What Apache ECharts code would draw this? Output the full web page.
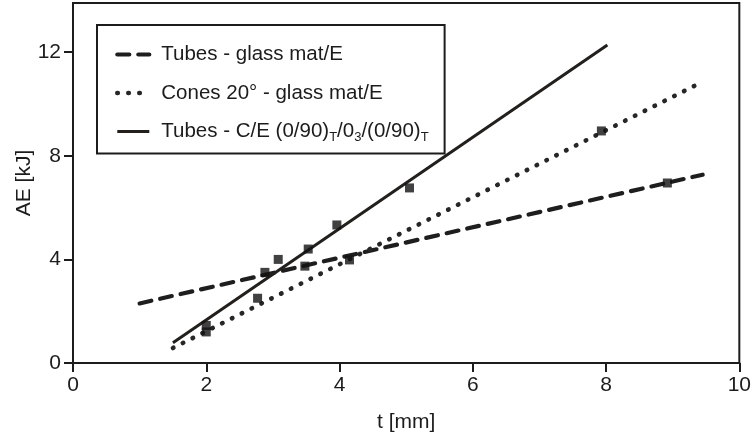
<!DOCTYPE html>
<html>
<head>
<meta charset="utf-8">
<script src="https://cdn.jsdelivr.net/npm/echarts@6/dist/echarts.min.js"></script>
<style>html,body{margin:0;padding:0;background:#fff;}#c{width:754px;height:440px;}</style>
</head>
<body>
<div id="c"></div>
<script>
// Series names
const seriesNames = ['Tubes - glass mat/E', 'Cones 20° - glass mat/E', 'Tubes - C/E (0/90)T/03/(0/90)T'];
// Fitted lines (t [mm], AE [kJ]) endpoints
const lineTubesGlass = [[1.0, 2.3], [9.45, 7.27]];
const lineConesGlass = [[1.5, 0.58], [9.45, 10.86]];
const lineTubesCE = [[1.5, 0.78], [8.02, 12.28]];
// Measured points
const ptsTubesGlass = [[2.88, 3.5], [3.48, 3.74], [8.92, 6.95]];
const ptsConesGlass = [[2.0, 1.2], [2.77, 2.5], [4.15, 3.98], [7.93, 8.96]];
const ptsTubesCE = [[2.0, 1.45], [3.08, 4.0], [3.53, 4.4], [3.96, 5.33], [5.05, 6.76]];
// Axis ticks
const xTicks = [0, 2, 4, 6, 8, 10];
const yTicks = [0, 4, 8, 12];

const FONT = 'Liberation Sans';
const INK = '#1c1c1c';
const chart = echarts.init(document.getElementById('c'));

function pointSeries(data) {
  return { type: 'scatter', data: data, symbol: 'rect', symbolSize: 9,
    itemStyle: { color: '#111' }, silent: true, z: 5 };
}

chart.setOption({
  animation: false,
  backgroundColor: '#fff',
  grid: { left: 73, right: 14, top: 3, bottom: 77, show: true, borderColor: INK, borderWidth: 2 },
  xAxis: {
    type: 'value', min: 0, max: 10, interval: 2,
    name: 't [mm]', nameLocation: 'middle', nameGap: 49,
    nameTextStyle: { fontFamily: FONT, fontSize: 21, color: INK },
    axisLine: { show: true, onZero: false, lineStyle: { color: INK, width: 2 } },
    axisTick: { show: true, length: 9, lineStyle: { color: INK, width: 2 }, customValues: xTicks },
    axisLabel: { fontFamily: FONT, fontSize: 21, color: INK, margin: 12, customValues: xTicks },
    splitLine: { show: false }
  },
  yAxis: {
    type: 'value', min: 0, max: 13.9,
    name: 'AE [kJ]', nameLocation: 'middle', nameGap: 38, nameMoveOverlap: false,
    nameTextStyle: { fontFamily: FONT, fontSize: 21, color: INK },
    axisLine: { show: true, onZero: false, lineStyle: { color: INK, width: 2 } },
    axisTick: { show: true, length: 9, lineStyle: { color: INK, width: 2 }, customValues: yTicks },
    axisLabel: { fontFamily: FONT, fontSize: 21, color: INK, margin: 12, customValues: yTicks },
    splitLine: { show: false }
  },
  legend: {
    orient: 'vertical', left: 97, top: 25,
    backgroundColor: '#fff', borderColor: INK, borderWidth: 2,
    padding: [19, 16, 10, 18],
    itemWidth: 32, itemHeight: 22, itemGap: 17.5,
    lineStyle: { width: 'inherit' },
    itemStyle: { opacity: 0, borderWidth: 0 },
    data: seriesNames,
    textStyle: {
      fontFamily: FONT, fontSize: 20.5, color: INK, padding: [0, 0, 0, 7],
      rich: {
        a: { fontFamily: FONT, fontSize: 20.5, color: INK, lineHeight: 24 },
        s: { fontFamily: FONT, fontSize: 13, color: INK, lineHeight: 13, verticalAlign: 'bottom' }
      }
    },
    formatter: function (name) {
      if (name === seriesNames[2]) {
        return '{a|Tubes - C/E (0/90)}{s|T}{a|/0}{s|3}{a|/(0/90)}{s|T}';
      }
      return name;
    }
  },
  series: [
    { name: seriesNames[0], type: 'line', data: lineTubesGlass, symbol: 'none', silent: true,
      lineStyle: { color: '#1e1e1e', width: 4.2, type: [12, 9], cap: 'round' }, itemStyle: { color: '#1e1e1e' } },
    { name: seriesNames[1], type: 'line', data: lineConesGlass, symbol: 'none', silent: true,
      lineStyle: { color: '#262626', width: 4.6, type: [0.5, 10.5], cap: 'round' }, itemStyle: { color: '#262626' } },
    { name: seriesNames[2], type: 'line', data: lineTubesCE, symbol: 'none', silent: true,
      lineStyle: { color: '#221f1c', width: 3, type: 'solid' }, itemStyle: { color: '#221f1c' } },
    pointSeries(ptsTubesGlass),
    pointSeries(ptsConesGlass),
    pointSeries(ptsTubesCE)
  ]
});
</script>
</body>
</html>
